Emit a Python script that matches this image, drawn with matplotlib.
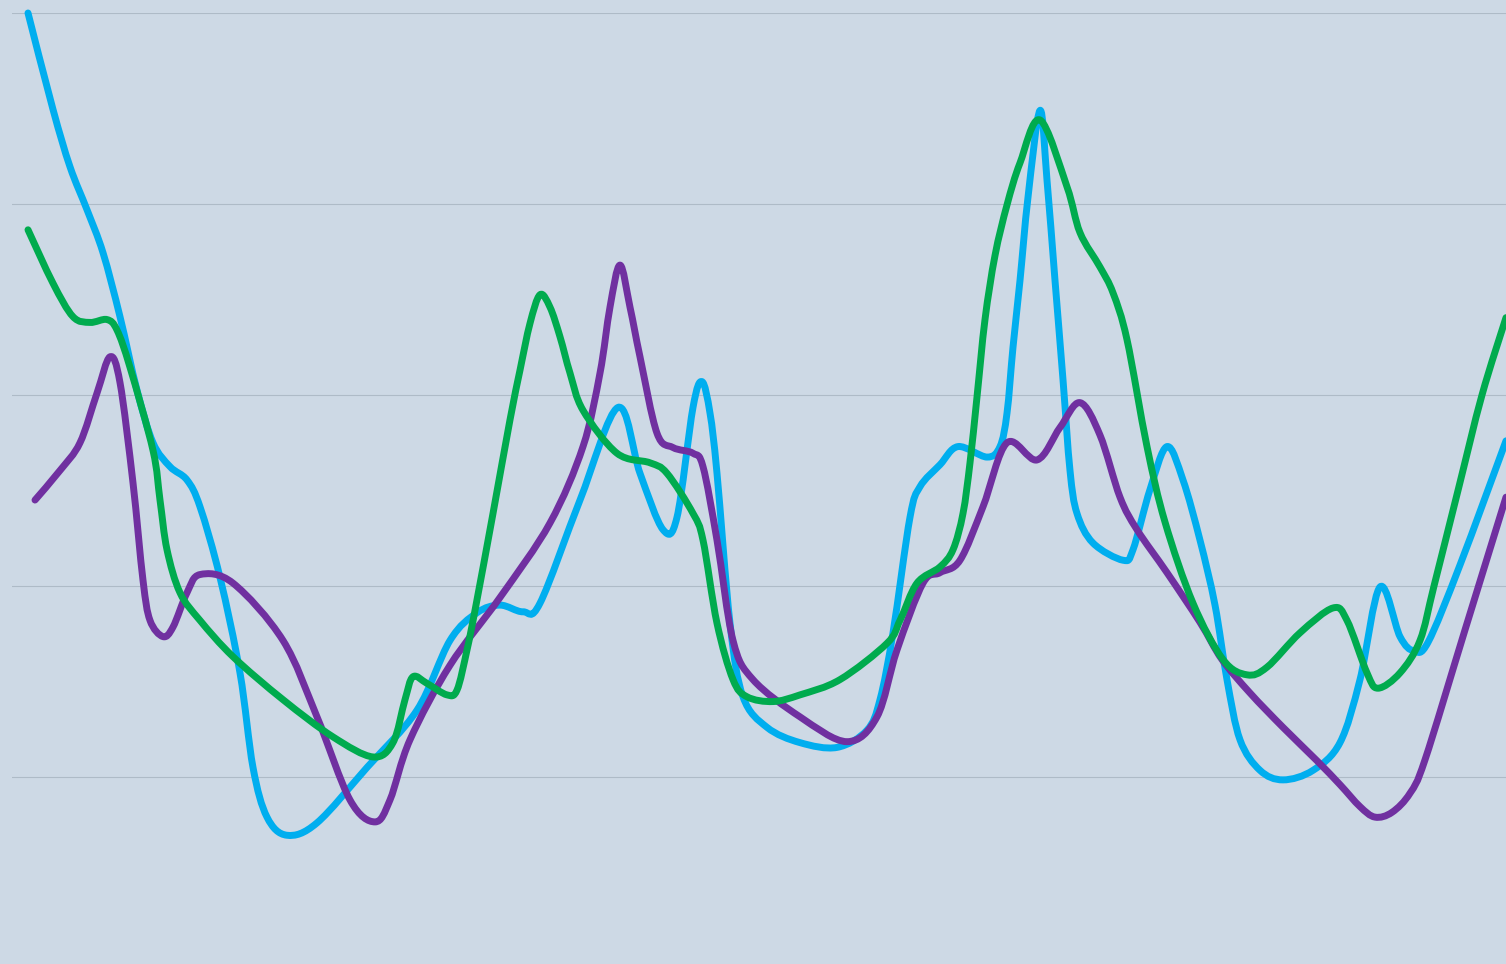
import numpy as np
import matplotlib
matplotlib.use("Agg")
import matplotlib.pyplot as plt
from matplotlib.path import Path
from matplotlib.patches import PathPatch

COLORS = {
    "bg": "#CDD9E5",
    "grid": "#AEBBC7",
    "cyan": "#00AEEF",
    "green": "#00AB4E",
    "purple": "#7030A0",
}

# series (x = time, y = value, grid every 20)
cyan_x = [2.8, 5.3, 7.0, 8.7, 10.3, 12.0, 13.7, 15.3, 17.0, 18.7, 20.0, 22.0, 24.0, 25.3,
          26.7, 28.7, 31.7, 36.7, 41.7, 45.0, 47.7, 50.0, 52.3, 54.0, 58.0, 61.8, 64.0, 66.3,
          67.7, 69.3, 70.2, 71.0, 71.7, 73.0, 74.3, 76.7, 80.0, 83.7, 86.7, 88.0, 89.3, 91.0,
          92.0, 94.0, 95.8, 98.7, 100.0, 100.7, 101.3, 102.0, 102.8, 104.0, 104.7, 105.5,
          106.3, 107.0, 107.7, 109.3, 112.3, 113.3, 115.0, 116.7, 118.3, 120.0, 121.5, 122.7,
          124.0, 126.0, 128.3, 131.3, 134.0, 136.0, 138.0, 140.0, 141.4, 142.8, 146.0, 150.6]
cyan_y = [100.0, 89.9, 83.9, 79.4, 74.9, 68.2, 60.5, 55.0, 52.5, 51.1, 48.3, 40.9, 30.9, 21.0,
          15.8, 13.9, 15.2, 21.0, 27.0, 34.3, 37.2, 38.0, 37.3, 38.2, 49.0, 58.7, 51.8, 45.9,
          47.2, 58.7, 61.4, 58.1, 51.8, 36.1, 28.4, 25.2, 23.6, 23.1, 24.9, 28.1, 35.1, 47.2,
          50.4, 52.7, 54.6, 53.5, 54.6, 58.1, 65.0, 72.0, 80.7, 89.8, 82.5, 72.0,
          61.6, 52.1, 47.6, 44.5, 42.7, 43.8, 50.1, 54.6, 51.1, 44.8, 38.0, 30.2,
          23.9, 20.7, 19.7, 20.7, 23.6, 30.2, 39.9, 34.7, 33.2, 34.1, 42.2, 55.2]

green_x = [2.8, 5.3, 7.3, 9.0, 10.7, 11.7, 13.0, 15.3, 16.0, 16.7, 18.0, 20.0, 23.3, 28.3,
           33.3, 37.3, 39.3, 40.5, 41.3, 42.7, 44.7, 45.7, 46.7, 47.6, 49.3, 51.0, 52.0, 53.0,
           54.0, 55.0, 56.0, 57.0, 58.3, 61.7, 65.0, 66.7, 69.3, 70.3, 71.7, 73.3, 74.7, 77.3,
           80.0, 84.0, 88.7, 90.0, 91.7, 94.0, 95.3, 96.3, 97.0, 97.7, 98.5, 99.5, 100.7,
           102.0, 104.0, 106.7, 108.0, 110.0, 111.3, 112.7, 114.7, 116.5, 119.3, 122.3,
           124.7, 126.7, 130.0, 133.3, 134.7, 136.7, 137.8, 140.0, 142.0, 143.4, 145.8, 148.2, 150.6]
green_y = [77.3, 71.7, 68.2, 67.6, 67.9, 66.8, 62.9, 54.2, 49.0, 43.8, 39.3, 36.4, 32.6, 28.1,
           24.2, 22.1, 23.6, 28.1, 30.5, 29.8, 28.6, 29.1, 33.3, 38.0, 47.6, 57.4, 62.6, 67.5,
           70.5, 69.2, 66.1, 62.3, 58.4, 53.9, 52.9, 51.8, 47.6, 44.8, 36.1, 30.2, 28.4, 27.9,
           28.6, 30.2, 34.0, 36.4, 40.3, 42.0, 43.8, 47.6, 52.9, 59.8, 67.9, 74.6, 79.9,
           84.3, 88.8, 81.8, 77.0, 73.4, 70.7, 65.8, 54.6, 46.7, 38.2, 32.3,
           30.7, 31.5, 35.1, 37.7, 36.4, 30.9, 29.3, 30.9, 34.3, 40.0, 50.0, 60.0, 68.1]

purple_x = [3.5, 6.0, 8.0, 9.7, 11.0, 12.0, 13.3, 14.3, 15.0, 16.3, 17.3, 18.7, 20.0, 23.3,
            28.3, 31.7, 35.0, 37.5, 39.0, 41.0, 45.0, 50.0, 55.0, 58.3, 60.0, 61.0, 62.0, 63.0,
            64.0, 65.7, 67.3, 69.3, 70.3, 71.7, 73.3, 75.3, 80.0, 84.7, 87.7, 89.7, 92.3, 94.0,
            96.0, 98.3, 100.7, 103.7, 106.0, 108.0, 110.0, 112.0, 113.7, 116.7, 120.0, 122.2,
            125.0, 128.3, 131.7, 134.0, 136.0, 137.5, 139.2, 141.0, 142.5, 146.5, 150.6]
purple_y = [49.0, 52.1, 55.0, 60.2, 64.0, 61.3, 50.8, 40.6, 36.4, 34.7, 35.7, 39.3, 41.2, 40.3,
            34.3, 26.3, 17.6, 15.3, 17.6, 23.9, 31.7, 38.8, 46.6, 54.6, 62.3, 69.2, 73.6, 69.2,
            64.0, 56.0, 54.5, 53.9, 52.5, 44.8, 34.3, 30.2, 26.3, 23.7, 26.3, 33.3, 40.3, 41.4,
            42.7, 48.3, 55.0, 53.2, 56.6, 59.2, 55.8, 49.3, 45.9, 41.4, 36.2, 32.3,
            28.8, 25.2, 21.7, 19.2, 16.9, 15.8, 16.3, 18.3, 21.8, 35.4, 49.3]

grid_values = [20, 40, 60, 80, 100]


def smooth_path(xs, ys):
    # catmull-rom through the points, handed to matplotlib as cubic beziers
    pts = np.column_stack([xs, ys]).astype(float)
    n = len(pts)
    verts = [pts[0]]
    codes = [Path.MOVETO]
    for i in range(n - 1):
        p0 = pts[max(i - 1, 0)]
        p1 = pts[i]
        p2 = pts[i + 1]
        p3 = pts[min(i + 2, n - 1)]
        verts += [p1 + (p2 - p0) / 6, p2 - (p3 - p1) / 6, p2]
        codes += [Path.CURVE4] * 3
    return Path(verts, codes)


def main():
    fig = plt.figure(figsize=(15.06, 9.64), dpi=100)
    fig.patch.set_facecolor(COLORS["bg"])
    ax = fig.add_axes([12 / 1506, 0, 1494 / 1506, 951 / 964])
    ax.set_facecolor(COLORS["bg"])
    ax.set_xlim(1.2, 150.6)
    ax.set_ylim(0.42, 100)

    ax.set_yticks(grid_values)
    ax.set_xticks([])
    ax.grid(axis="y", color=COLORS["grid"], linewidth=0.8)
    ax.tick_params(left=False, labelleft=False, bottom=False, labelbottom=False)
    for s in ax.spines.values():
        s.set_visible(False)

    for xs, ys, c in [(cyan_x, cyan_y, "cyan"), (purple_x, purple_y, "purple"), (green_x, green_y, "green")]:
        patch = PathPatch(smooth_path(xs, ys), fill=False, edgecolor=COLORS[c], linewidth=5.0,
                          capstyle="round", joinstyle="round", zorder=3)
        patch.set_clip_on(False)
        ax.add_patch(patch)

    fig.savefig("out.png", dpi=100, facecolor=COLORS["bg"])
    plt.close(fig)


if __name__ == "__main__":
    main()
